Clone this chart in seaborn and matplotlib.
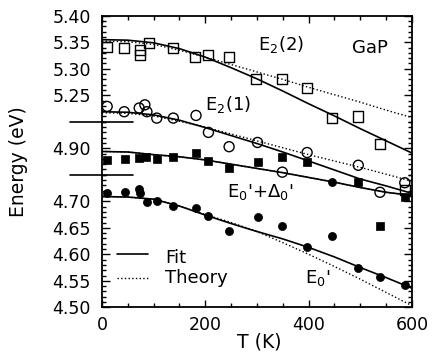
import numpy as np
import matplotlib
matplotlib.use('Agg')
import matplotlib.pyplot as plt
from matplotlib.lines import Line2D
import seaborn as sns

sns.set_theme(style='ticks')
plt.rcParams['font.family'] = ['DejaVu Sans']
plt.rcParams['mathtext.fontset'] = 'dejavusans'

# temperature grid for the fit / theory curves
T_curve = [0, 50, 100, 150, 200, 250, 300, 350, 400, 450, 500, 550, 600]

# E2(2) - open squares
T_e22 = [10, 43, 74, 74, 91, 138, 180, 206, 246, 299, 349, 396, 446, 496, 538, 586]
E_e22 = [5.342, 5.339, 5.335, 5.326, 5.348, 5.339, 5.322, 5.326, 5.322, 5.281,
         5.280, 5.263, 5.207, 5.210, 5.158, 5.071]
fit_e22 = [5.355, 5.354, 5.349, 5.338, 5.322, 5.302, 5.281, 5.258, 5.234, 5.211, 5.187, 5.164, 5.141]
theo_e22 = [5.352, 5.351, 5.346, 5.335, 5.322, 5.308, 5.294, 5.280, 5.265, 5.251, 5.237, 5.222, 5.208]

# E2(1) - open circles
T_e21 = [10, 43, 72, 83, 87, 106, 138, 182, 206, 246, 301, 349, 397, 496, 538, 586]
E_e21 = [5.229, 5.219, 5.226, 5.232, 5.219, 5.207, 5.207, 5.212, 5.180, 5.153,
         5.161, 5.105, 5.142, 5.118, 5.067, 5.085]
fit_e21 = [5.219, 5.218, 5.213, 5.203, 5.189, 5.174, 5.159, 5.143, 5.126, 5.109, 5.092, 5.079, 5.065]
theo_e21 = [5.217, 5.216, 5.211, 5.201, 5.190, 5.177, 5.164, 5.151, 5.138, 5.126, 5.114, 5.101, 5.088]

# E0'+D0' - filled squares
T_e0d = [10, 45, 72, 85, 106, 138, 182, 206, 246, 301, 349, 397, 496, 538, 586]
E_e0d = [4.878, 4.879, 4.882, 4.884, 4.879, 4.883, 4.891, 4.876, 4.862, 4.875,
         4.883, 4.875, 4.837, 4.753, 4.809]
fit_e0d = [4.894, 4.893, 4.888, 4.884, 4.878, 4.870, 4.862, 4.854, 4.845, 4.836, 4.826, 4.817, 4.811]
theo_e0d = [4.894, 4.893, 4.888, 4.884, 4.878, 4.870, 4.862, 4.854, 4.845, 4.836, 4.826, 4.817, 4.811]

# E0' - filled circles
T_e0 = [10, 45, 72, 74, 87, 106, 138, 182, 206, 246, 301, 349, 397, 446, 446, 496, 538, 586]
E_e0 = [4.715, 4.718, 4.723, 4.715, 4.699, 4.701, 4.691, 4.687, 4.672, 4.644,
        4.671, 4.653, 4.614, 4.635, 4.737, 4.574, 4.557, 4.542]
fit_e0 = [4.709, 4.708, 4.704, 4.691, 4.674, 4.658, 4.643, 4.629, 4.613, 4.595, 4.575, 4.556, 4.536]
theo_e0 = [4.709, 4.708, 4.704, 4.691, 4.675, 4.660, 4.643, 4.622, 4.600, 4.577, 4.553, 4.528, 4.503]

# broken energy axis: (offset, low, high, labelled values)
SECTIONS = [
    (0.00, 4.50, 4.75, [4.50, 4.55, 4.60, 4.65, 4.70]),
    (0.10, 4.85, 4.95, [4.90]),
    (0.35, 5.20, 5.40, [5.25, 5.30, 5.35, 5.40]),
]
OFF_E2 = 0.35
OFF_E0D = 0.10


def shift(vals, off):
    return np.asarray(vals) - off


def main():
    fig = plt.figure(figsize=(4.32, 3.54), dpi=100)
    ax = fig.add_axes([0.2361, 0.1319, 0.7176, 0.8235])

    ink = 'black'
    # fit and theory curves
    for vals, off in [(fit_e22, OFF_E2), (fit_e21, OFF_E2), (fit_e0d, OFF_E0D), (fit_e0, 0.0)]:
        sns.lineplot(x=T_curve, y=shift(vals, off), ax=ax, color=ink, lw=1.2,
                     estimator=None, sort=False)
    for vals, off in [(theo_e22, OFF_E2), (theo_e21, OFF_E2), (theo_e0d, OFF_E0D), (theo_e0, 0.0)]:
        sns.lineplot(x=T_curve, y=shift(vals, off), ax=ax, color=ink, lw=1.0,
                     linestyle=':', estimator=None, sort=False)

    # data points
    sns.scatterplot(x=T_e22, y=shift(E_e22, OFF_E2), ax=ax, marker='s', s=52,
                    color=ink, facecolor='none', edgecolor=ink, linewidth=1.0, zorder=3)
    sns.scatterplot(x=T_e21, y=shift(E_e21, OFF_E2), ax=ax, marker='o', s=52,
                    color=ink, facecolor='none', edgecolor=ink, linewidth=1.0, zorder=3)
    sns.scatterplot(x=T_e0d, y=shift(E_e0d, OFF_E0D), ax=ax, marker='s', s=34,
                    color=ink, edgecolor=ink, linewidth=0.5, zorder=3)
    sns.scatterplot(x=T_e0, y=shift(E_e0, 0.0), ax=ax, marker='o', s=34,
                    color=ink, edgecolor=ink, linewidth=0.5, zorder=3)

    ax.set_xlim(0, 600)
    ax.set_ylim(4.50, 5.05)

    # y ticks built from the broken-axis sections
    majors, labels, minors = [], [], []
    for off, lo, hi, labs in SECTIONS:
        for v in labs:
            majors.append(v - off)
            labels.append(f'{v:.2f}')
        for v in np.round(np.arange(lo, hi + 1e-9, 0.01), 2):
            if not any(abs(v - l) < 1e-6 for l in labs):
                minors.append(v - off)
    ax.set_yticks(majors)
    ax.set_yticklabels(labels)
    ax.set_yticks(minors, minor=True)

    ax.set_xticks([0, 200, 400, 600])
    ax.set_xticks([50, 100, 150, 250, 300, 350, 450, 500, 550], minor=True)

    ax.tick_params(which='both', direction='in', top=True, right=True,
                   colors=ink, labelsize=12.5, width=1.0)
    ax.tick_params(axis='y', which='major', length=6, pad=8)
    ax.tick_params(axis='y', which='minor', length=3)
    ax.tick_params(axis='x', which='major', length=5, pad=6.5)
    ax.tick_params(axis='x', which='minor', length=3)
    for sp in ax.spines.values():
        sp.set_color(ink)
        sp.set_linewidth(1.3)

    # break markers on the energy axis
    for off, lo, hi, labs in SECTIONS[1:]:
        ax.plot([-62, 60], [lo - off] * 2, color=ink, lw=1.2, clip_on=False)

    ax.set_xlabel('T (K)', fontsize=13.5, color=ink)
    ax.set_ylabel('Energy (eV)', fontsize=13.5, color=ink)
    ax.xaxis.set_label_coords(0.506, -0.085)
    ax.yaxis.set_label_coords(-0.238, 0.5)

    # labels for the transitions
    tk = dict(transform=ax.transAxes, fontsize=13, color=ink, ha='left', va='baseline')
    ax.text(0.504, 0.883, r'E$_2$(2)', **tk)
    ax.text(0.805, 0.871, 'GaP', **tk)
    ax.text(0.332, 0.677, r'E$_2$(1)', **tk)
    ax.text(0.402, 0.379, r"E$_0$'+$\Delta_0$'", **tk)
    ax.text(0.655, 0.082, r"E$_0$'", **tk)

    # Fit / Theory key
    ax.add_line(Line2D([0.048, 0.148], [0.183, 0.183], transform=ax.transAxes, color=ink, lw=1.2))
    ax.add_line(Line2D([0.048, 0.148], [0.1005, 0.1005], transform=ax.transAxes, color=ink,
                       lw=1.0, linestyle=':'))
    ax.text(0.203, 0.153, 'Fit', **tk)
    ax.text(0.203, 0.082, 'Theory', **tk)

    fig.savefig('out.png', dpi=100)
    plt.close(fig)


if __name__ == '__main__':
    main()
